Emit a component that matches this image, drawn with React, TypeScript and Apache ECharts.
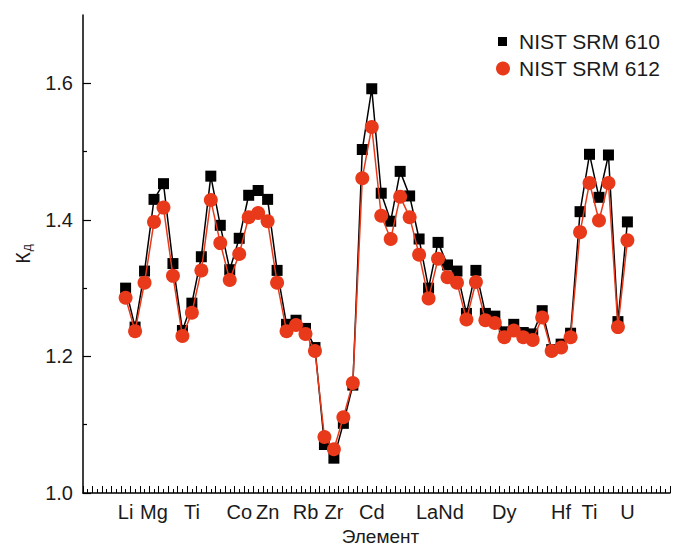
import React, { useEffect, useRef } from 'react';
import * as echarts from 'echarts';

// Element positions 0..53 (one per measured element)
const srm610 = [
  1.300, 1.243, 1.325, 1.430, 1.453, 1.336, 1.238, 1.278, 1.346, 1.464,
  1.392, 1.327, 1.373, 1.436, 1.443, 1.430, 1.326, 1.247, 1.253, 1.241,
  1.213, 1.071, 1.051, 1.102, 1.158, 1.503, 1.592, 1.439, 1.398, 1.471,
  1.435, 1.372, 1.300, 1.367, 1.334, 1.325, 1.263, 1.326, 1.263, 1.259,
  1.236, 1.247, 1.235, 1.233, 1.267, 1.210, 1.218, 1.234, 1.412, 1.496,
  1.433, 1.495, 1.251, 1.397,
];
const srm612 = [
  1.286, 1.237, 1.308, 1.397, 1.418, 1.318, 1.230, 1.264, 1.326, 1.429,
  1.366, 1.312, 1.350, 1.404, 1.410, 1.398, 1.308, 1.237, 1.246, 1.233,
  1.208, 1.082, 1.064, 1.111, 1.161, 1.461, 1.536, 1.406, 1.372, 1.434,
  1.404, 1.349, 1.285, 1.343, 1.316, 1.308, 1.254, 1.309, 1.253, 1.249,
  1.228, 1.238, 1.228, 1.224, 1.257, 1.208, 1.213, 1.228, 1.382, 1.454,
  1.399, 1.454, 1.243, 1.370,
];
const labelIndex = [0, 3, 7, 12, 15, 19, 22, 26, 32, 34, 40, 46, 49, 53];
const labelText = ['Li', 'Mg', 'Ti', 'Co', 'Zn', 'Rb', 'Zr', 'Cd', 'La', 'Nd', 'Dy', 'Hf', 'Ti', 'U'];
const yMajorTicks = [1.0, 1.2, 1.4, 1.6];
const yMinorTicks = [1.1, 1.3, 1.5];
const seriesNames = ['NIST SRM 610', 'NIST SRM 612'];

const X_MIN = -4.5;
const X_MAX = 57.5;
const FONT = '"Liberation Sans", Arial, Helvetica, sans-serif';
const TXT = '#1a1a1a';
const RED = '#e8391a';

export default function App() {
  const ref = useRef<HTMLDivElement>(null);
  useEffect(() => {
    if (!ref.current) return;
    const chart = echarts.init(ref.current, undefined, { renderer: 'svg' });
    const boundaries: number[] = [];
    for (let v = X_MIN; v <= X_MAX + 1e-9; v += 1) boundaries.push(v);
    const centers: number[] = [];
    for (let v = X_MIN + 0.5; v < X_MAX; v += 1) centers.push(v);

    const axisLine = { show: true, onZero: false, lineStyle: { color: '#000', width: 1.5 } };
    const lbl = { fontSize: 20, color: TXT, fontFamily: FONT };
    chart.setOption({
      animation: false,
      textStyle: { fontFamily: FONT },
      grid: { left: 83, right: 3, top: 15, bottom: 53, containLabel: false, outerBoundsMode: 'none' },
      legend: [
        {
          data: [{ name: seriesNames[0], icon: 'rect' }],
          left: 493, top: 26, itemWidth: 9, itemHeight: 9, padding: 5,
          textStyle: { fontSize: 21, color: TXT, fontFamily: FONT, padding: [0, 0, 0, 7] },
          selectedMode: false,
        },
        {
          data: [{ name: seriesNames[1], icon: 'circle' }],
          left: 491, top: 53, itemWidth: 14, itemHeight: 14, padding: 5,
          textStyle: { fontSize: 21, color: TXT, fontFamily: FONT, padding: [0, 0, 0, 4] },
          selectedMode: false,
        },
      ],
      xAxis: [
        {
          type: 'value', min: X_MIN, max: X_MAX,
          axisLine,
          splitLine: { show: false },
          axisTick: { show: true, inside: true, length: 7, customValues: boundaries, lineStyle: { color: '#000', width: 1 } },
          axisLabel: {
            show: true, customValues: labelIndex, margin: 9, ...lbl,
            formatter: (v: number) => {
              const k = labelIndex.findIndex((i) => Math.abs(i - v) < 1e-6);
              if (k < 0) return '';
              const t = labelText[k];
              if (t === 'La') return '{l|La}';
              if (t === 'Nd') return '{r|Nd}';
              return t;
            },
            rich: {
              l: { ...lbl, padding: [0, 3, 0, 0] },
              r: { ...lbl, padding: [0, 0, 0, 7] },
            },
          },
          name: 'Элемент', nameLocation: 'middle', nameGap: 25,
          nameTextStyle: { fontSize: 19, color: TXT, fontFamily: FONT, padding: [0, 0, 0, 8] },
        },
        {
          type: 'value', min: X_MIN, max: X_MAX, position: 'bottom',
          axisLine: { show: false, onZero: false },
          splitLine: { show: false },
          axisTick: { show: true, inside: true, length: 4, customValues: centers, lineStyle: { color: '#000', width: 1 } },
          axisLabel: { show: false },
        },
      ],
      yAxis: [
        {
          type: 'value', min: 1.0, max: 1.7,
          axisLine,
          splitLine: { show: false },
          axisTick: { show: true, inside: true, length: 8, customValues: yMajorTicks, lineStyle: { color: '#000', width: 1.2 } },
          axisLabel: {
            customValues: yMajorTicks, margin: 10, ...lbl,
            formatter: (v: number) => v.toFixed(1),
          },
          name: '{k|К}{d|д}', nameLocation: 'middle', nameGap: 50,
          nameTextStyle: {
            fontFamily: FONT, color: TXT,
            rich: {
              k: { fontSize: 20, lineHeight: 20, verticalAlign: 'top', fontFamily: FONT, color: TXT },
              d: { fontSize: 12, lineHeight: 12, verticalAlign: 'bottom', padding: [20, 0, 0, 1], fontFamily: FONT, color: TXT },
            },
          },
        },
        {
          type: 'value', min: 1.0, max: 1.7, position: 'left',
          axisLine: { show: false, onZero: false },
          splitLine: { show: false },
          axisTick: { show: true, inside: true, length: 4, customValues: yMinorTicks, lineStyle: { color: '#000', width: 1.2 } },
          axisLabel: { show: false },
        },
      ],
      series: [
        {
          name: seriesNames[0], type: 'line',
          data: srm610.map((v, i) => [i, v]),
          symbol: 'rect', symbolSize: 11,
          itemStyle: { color: '#000' },
          lineStyle: { color: '#000', width: 1.5 },
          z: 2,
        },
        {
          name: seriesNames[1], type: 'line',
          data: srm612.map((v, i) => [i, v]),
          symbol: 'circle', symbolSize: 14,
          itemStyle: { color: RED },
          lineStyle: { color: RED, width: 1.5 },
          z: 3,
        },
      ],
    });
    return () => chart.dispose();
  }, []);
  return (
    <div
      ref={ref}
      style={{ position: 'absolute', left: 0, top: 0, width: 673, height: 546, background: '#fff' }}
    />
  );
}
